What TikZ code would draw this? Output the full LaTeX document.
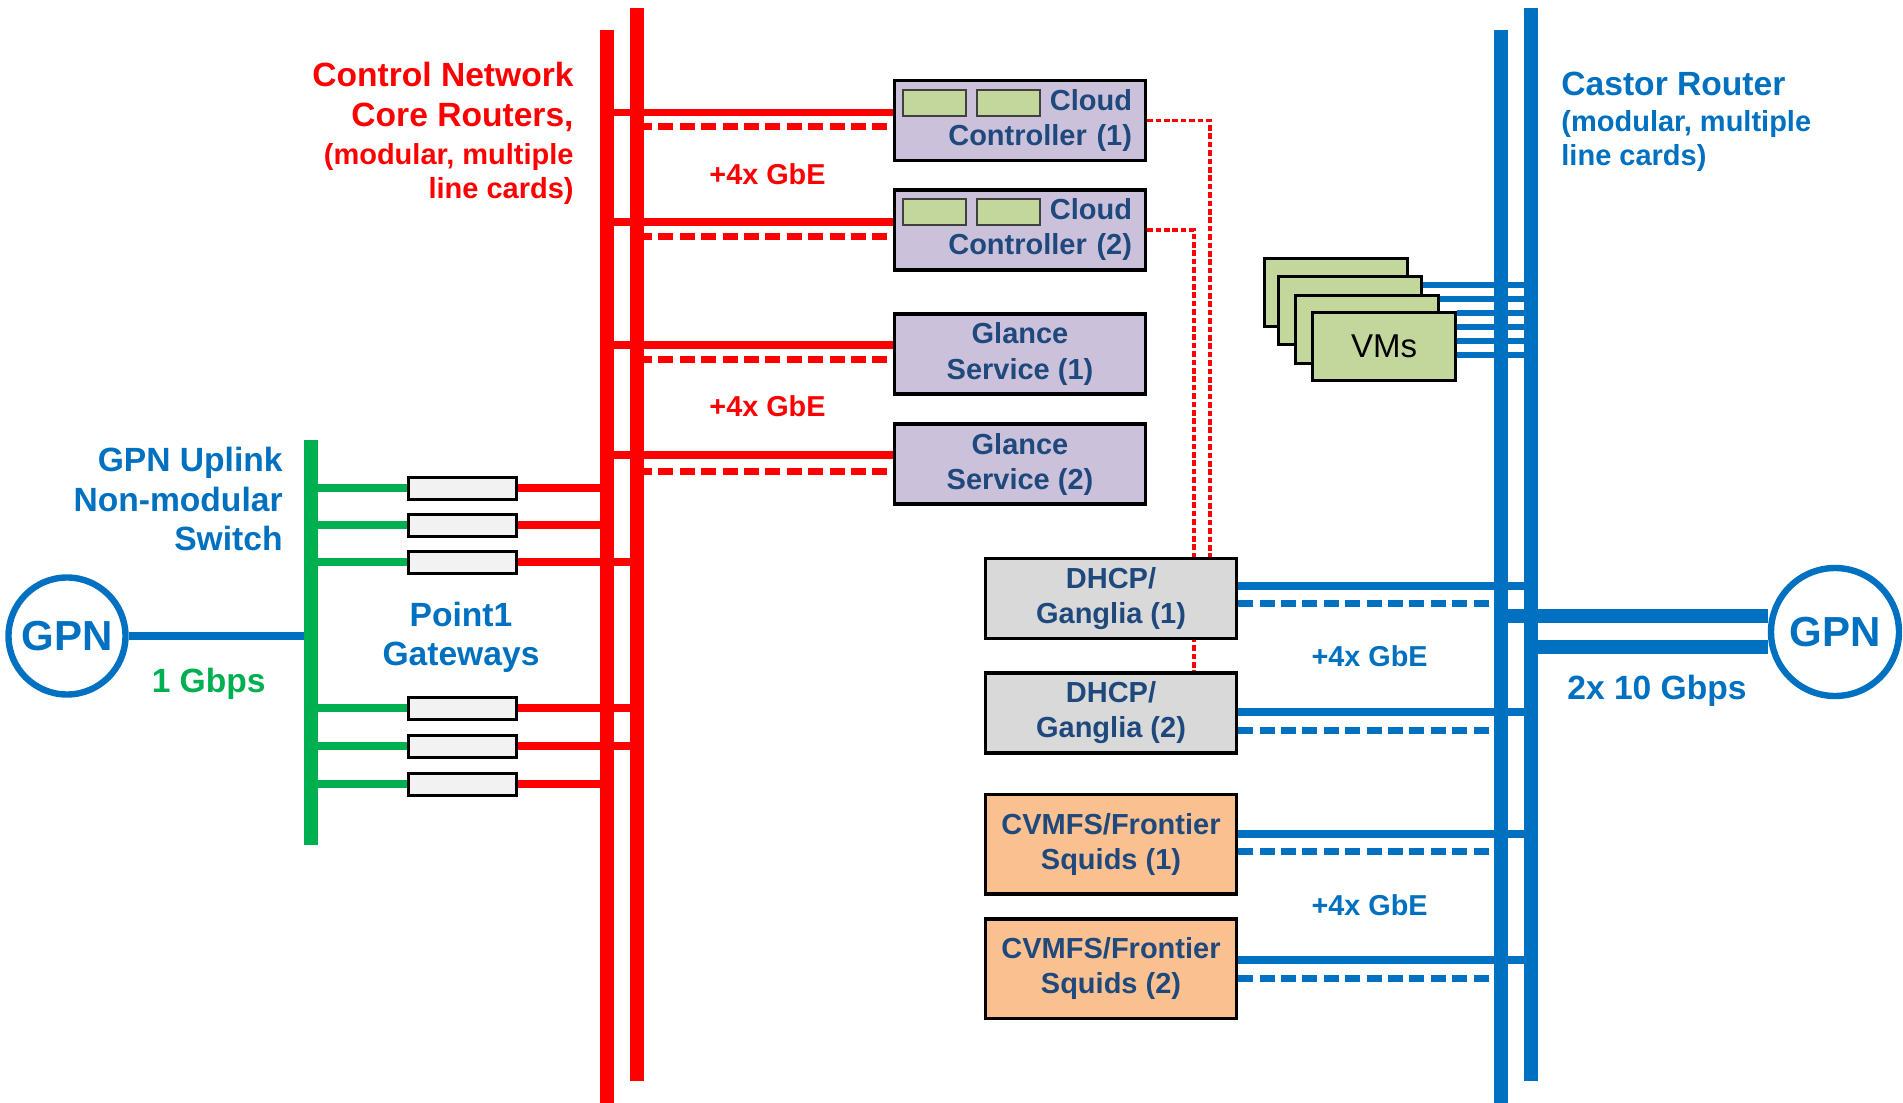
\documentclass[tikz,border=0pt]{standalone}
\usepackage{fontspec}
\setmainfont{Liberation Sans}
\usetikzlibrary{positioning,backgrounds}
\definecolor{ctlred}{HTML}{FF0000}
\definecolor{netblue}{HTML}{0070C0}
\definecolor{gpngreen}{HTML}{00B050}
\definecolor{boxtext}{HTML}{1F497D}
\definecolor{lavender}{HTML}{CCC1DA}
\definecolor{cardgreen}{HTML}{C3D69B}
\definecolor{dhcpgray}{HTML}{D9D9D9}
\definecolor{squid}{HTML}{FAC090}
\definecolor{gwgray}{HTML}{F2F2F2}

\begin{document}
\begin{tikzpicture}[
  x=0.5pt, y=-0.5pt,
  bus/.style={line width=7pt},
  link/.style={line width=3.75pt},
  spare/.style={line width=3.5pt, dash pattern=on 7.5pt off 3.2pt},
  vmlink/.style={netblue, line width=2.6pt},
  ctrldot/.style={ctlred, line width=1.6pt, dash pattern=on 2.8pt off 1.4pt},
  service/.style={draw, line width=1.75pt, minimum width=125.5pt, minimum height=40pt,
    inner sep=0pt, text=boxtext, align=center, font=\fontsize{14.5}{17.5}\selectfont\bfseries},
  gateway/.style={draw, line width=1.5pt, fill=gwgray, minimum width=54pt,
    minimum height=11pt, inner sep=0pt},
  card/.style={draw=black!75, line width=1pt, fill=cardgreen, minimum width=31.5pt,
    minimum height=13.3pt, inner sep=0pt},
  vm/.style={draw, line width=1.5pt, fill=cardgreen, minimum width=71.5pt,
    minimum height=34pt, inner sep=0pt},
  gpn/.style={circle, draw=netblue, line width=3.2pt, text=netblue, inner sep=0pt,
    font=\fontsize{21}{21}\selectfont\bfseries},
  title/.style={inner sep=0pt, font=\fontsize{16.8}{19.6}\selectfont\bfseries},
  subtitle/.style={inner sep=0pt, font=\fontsize{14.5}{16.8}\selectfont\bfseries},
  gbe/.style={inner sep=0pt, font=\fontsize{14.4}{17}\selectfont\bfseries}
]
  \useasboundingbox (0,0) rectangle (1903,1103);

  % backbones
  \coordinate (ctlA) at (607,30);   \coordinate (ctlAend) at (607,1103);
  \coordinate (ctlB) at (637,8);    \coordinate (ctlBend) at (637,1081);
  \coordinate (casA) at (1501,30);  \coordinate (casAend) at (1501,1103);
  \coordinate (casB) at (1531,8);   \coordinate (casBend) at (1531,1081);
  \coordinate (upl) at (311,440);   \coordinate (uplend) at (311,845);

  % GPN clouds
  \node[gpn, minimum size=58.5pt] (gpnL) at (67,636) {GPN};
  \node[gpn, minimum size=64pt] (gpnR) at (1835,632) {GPN};

  % Point1 gateways
  \node[gateway] (gw1) at (462,488) {};
  \node[gateway] (gw2) at (462,525) {};
  \node[gateway] (gw3) at (462,562) {};
  \node[gateway] (gw4) at (462,708) {};
  \node[gateway] (gw5) at (462,746) {};
  \node[gateway] (gw6) at (462,784) {};

  % control side services
  \node[service, fill=lavender, align=right, text width=112pt, inner xsep=6.5pt] (cc1) at (1020,120.5) {Cloud\\Controller (1)};
  \node[service, fill=lavender, align=right, text width=112pt, inner xsep=6.5pt] (cc2) at (1020,230) {Cloud\\Controller (2)};
  \node[card] (cc1a) at (934.5,103) {};
  \node[card] (cc1b) at (1008,103) {};
  \node[card] (cc2a) at (934.5,212) {};
  \node[card] (cc2b) at (1008,212) {};
  \node[service, fill=lavender] (gl1) at (1020,354) {Glance\\Service (1)};
  \node[service, fill=lavender] (gl2) at (1020,464) {Glance\\Service (2)};

  % castor side services
  \node[service, fill=dhcpgray] (dh1) at (1111,598.6) {DHCP/\\Ganglia (1)};
  \node[service, fill=dhcpgray] (dh2) at (1111,713) {DHCP/\\Ganglia (2)};
  \node[service, fill=squid, minimum height=49.75pt] (cv1) at (1111,844) {CVMFS/Frontier\\Squids (1)};
  \node[service, fill=squid, minimum height=49.75pt] (cv2) at (1111,968.6) {CVMFS/Frontier\\Squids (2)};

  % VMs
  \node[vm] (vmA) at (1336,292.5) {};
  \node[vm] (vmB) at (1349.5,310) {};
  \node[vm] (vmC) at (1366.5,329) {};
  \node[vm, font=\fontsize{16.5}{18}\selectfont] (vmD) at (1384,346) {VMs};

  % labels
  \node[title, text=ctlred, align=right, anchor=east] (ctltitle) at (574,97) {Control Network\\Core Routers,};
  \node[subtitle, text=ctlred, align=right, anchor=east] (ctlsub) at (574,174) {(modular, multiple\\line cards)};
  \node[title, text=netblue, anchor=west] (castitle) at (1561,84) {Castor Router};
  \node[subtitle, text=netblue, align=left, anchor=west] (cassub) at (1561,141) {(modular, multiple\\line cards)};
  \node[title, text=netblue, align=right, anchor=east] (upltitle) at (283,499) {GPN Uplink\\Non-modular\\Switch};
  \node[title, text=netblue, align=center] (gwtitle) at (461,637) {Point1\\Gateways};
  \node[title, text=gpngreen] (uplrate) at (208.7,684) {1 Gbps};
  \node[title, text=netblue] (casrate) at (1657,691) {2x 10 Gbps};
  \node[gbe, text=ctlred] (ctlgbe1) at (767.5,174.5) {+4x GbE};
  \node[gbe, text=ctlred] (ctlgbe2) at (767.5,406) {+4x GbE};
  \node[gbe, text=netblue] (casgbe1) at (1369.6,656.7) {+4x GbE};
  \node[gbe, text=netblue] (casgbe2) at (1369.6,905.3) {+4x GbE};

  % uplink side
  \draw[link, netblue] (gpnL.east) -- (gpnL.east -| upl);
  \draw[link, gpngreen] (upl |- gw1) -- (gw1.west);
  \draw[link, gpngreen] (upl |- gw2) -- (gw2.west);
  \draw[link, gpngreen] (upl |- gw3) -- (gw3.west);
  \draw[link, gpngreen] (upl |- gw4) -- (gw4.west);
  \draw[link, gpngreen] (upl |- gw5) -- (gw5.west);
  \draw[link, gpngreen] (upl |- gw6) -- (gw6.west);
  \draw[link, ctlred] (gw1.east) -- (gw1 -| ctlA);
  \draw[link, ctlred] (gw2.east) -- (gw2 -| ctlA);
  \draw[link, ctlred] (gw3.east) -- (gw3 -| ctlB);
  \draw[link, ctlred] (gw4.east) -- (gw4 -| ctlB);
  \draw[link, ctlred] (gw5.east) -- (gw5 -| ctlB);
  \draw[link, ctlred] (gw6.east) -- (gw6 -| ctlA);

  % control network links
  \draw[link, ctlred] (ctlA |- 0,112.5) -- (cc1.west |- 0,112.5);
  \draw[spare, ctlred] (ctlB |- 0,126) -- (cc1.west |- 0,126);
  \draw[link, ctlred] (ctlA |- 0,222) -- (cc2.west |- 0,222);
  \draw[spare, ctlred] (ctlB |- 0,236) -- (cc2.west |- 0,236);
  \draw[link, ctlred] (ctlA |- 0,345) -- (gl1.west |- 0,345);
  \draw[spare, ctlred] (ctlB |- 0,359) -- (gl1.west |- 0,359);
  \draw[link, ctlred] (ctlA |- 0,455) -- (gl2.west |- 0,455);
  \draw[spare, ctlred] (ctlB |- 0,471) -- (gl2.west |- 0,471);
  \begin{scope}[on background layer]
    \draw[ctrldot] (cc1.east) -| ([xshift=49.5pt]dh1.north);
    \draw[ctrldot] (cc2.east) -| ([xshift=41.5pt]dh2.north);
  \end{scope}

  % castor links
  \draw[link, netblue] (dh1.east |- 0,586) -- (casB |- 0,586);
  \draw[spare, netblue] (dh1.east |- 0,603) -- (casA |- 0,603);
  \draw[link, netblue] (dh2.east |- 0,712) -- (casB |- 0,712);
  \draw[spare, netblue] (dh2.east |- 0,730) -- (casA |- 0,730);
  \draw[link, netblue] (cv1.east |- 0,834) -- (casB |- 0,834);
  \draw[spare, netblue] (cv1.east |- 0,851) -- (casA |- 0,851);
  \draw[link, netblue] (cv2.east |- 0,960) -- (casB |- 0,960);
  \draw[spare, netblue] (cv2.east |- 0,978) -- (casA |- 0,978);
  \draw[vmlink] (vmB.east |- 0,285) -- (casB |- 0,285);
  \draw[vmlink] (vmC.east |- 0,299) -- (casB |- 0,299);
  \draw[vmlink] (vmD.east |- 0,313) -- (casB |- 0,313);
  \draw[vmlink] (vmD.east |- 0,327) -- (casB |- 0,327);
  \draw[vmlink] (vmD.east |- 0,341) -- (casB |- 0,341);
  \draw[vmlink] (vmD.east |- 0,355) -- (casB |- 0,355);
  \draw[bus, netblue] (casA |- 0,616) -- (gpnR.west |- 0,616);
  \draw[bus, netblue] (casB |- 0,647) -- (gpnR.west |- 0,647);

  \draw[bus, ctlred] (ctlA) -- (ctlAend);
  \draw[bus, ctlred] (ctlB) -- (ctlBend);
  \draw[bus, netblue] (casA) -- (casAend);
  \draw[bus, netblue] (casB) -- (casBend);
  \draw[bus, gpngreen] (upl) -- (uplend);
\end{tikzpicture}
\end{document}
